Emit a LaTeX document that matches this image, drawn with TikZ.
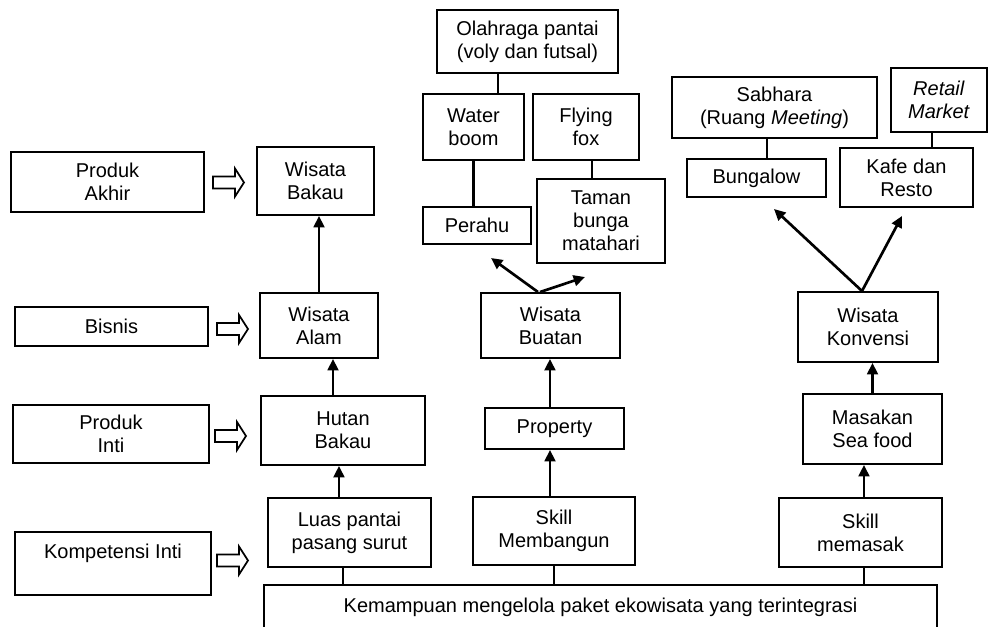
\documentclass[tikz,border=0pt]{standalone}
\usepackage{fontspec}
\setmainfont{Liberation Sans}
\usepackage{tikz}
\usetikzlibrary{arrows.meta}
\usetikzlibrary{calc}

\tikzset{
    kotak/.style={draw, line width=1.45pt, align=center, inner sep=0pt, font=\fontsize{15}{17.3}\selectfont},
    panah/.style={-{Triangle[length=8.5pt,width=8pt]}, line width=2pt},
    garis/.style={line width=2pt},
    blok/.style={line width=1.3pt}
}

\begin{document}
\begin{tikzpicture}[x=0.75pt,y=-0.75pt]
\useasboundingbox (0,0) rectangle (989,627);
\clip (0,0) rectangle (989,627);
\begin{scope}
    % kolom keterangan
    \node[kotak, minimum width=144.75pt, minimum height=45pt] (akhir) at (107.5,182) {Produk\\Akhir};
    \node[kotak, minimum width=144.75pt, minimum height=29.25pt] (bisnis) at (111.5,326.5) {Bisnis};
    \node[kotak, minimum width=147pt, minimum height=43.5pt] (inti) at (111,434) {Produk\\Inti};
    \node[kotak, minimum width=147pt, minimum height=47.25pt] (kompetensi) at (113,563.5) {\raisebox{7.9pt}[\height][\depth]{Kompetensi Inti}};

    \draw[blok] (213,176.5) -- ++(22,0) -- ++(0,-8) -- ++(9,14) -- ++(-9,14) -- ++(0,-8) -- ++(-22,0) -- cycle;
    \draw[blok] (217,323) -- ++(22,0) -- ++(0,-8) -- ++(9,14) -- ++(-9,14) -- ++(0,-8) -- ++(-22,0) -- cycle;
    \draw[blok] (215,430) -- ++(22,0) -- ++(0,-8) -- ++(9,14) -- ++(-9,14) -- ++(0,-8) -- ++(-22,0) -- cycle;
    \draw[blok] (217,554.5) -- ++(22,0) -- ++(0,-8) -- ++(9,14) -- ++(-9,14) -- ++(0,-8) -- ++(-22,0) -- cycle;

    % wisata alam
    \node[kotak, minimum width=87.75pt, minimum height=51pt] (wbakau) at (315.5,181) {Wisata\\Bakau};
    \node[kotak, minimum width=88.5pt, minimum height=48.75pt] (alam) at (319,325.5) {Wisata\\Alam};
    \node[kotak, minimum width=123pt, minimum height=51.75pt] (hutan) at (343,430.5) {Hutan\\Bakau};
    \node[kotak, minimum width=122.25pt, minimum height=51.75pt] (luas) at (349.5,532.5) {Luas pantai\\pasang surut};

    % wisata buatan
    \node[kotak, minimum width=135.75pt, minimum height=47.25pt] (olahraga) at (527.5,41.5) {Olahraga pantai\\(voly dan futsal)};
    \node[kotak, minimum width=75.75pt, minimum height=49.5pt] (water) at (473.5,127) {Water\\boom};
    \node[kotak, minimum width=79.5pt, minimum height=49.5pt] (flying) at (586,127) {Flying\\fox};
    \node[kotak, minimum width=81pt, minimum height=27.75pt] (perahu) at (477,225.5) {Perahu};
    \node[kotak, minimum width=96pt, minimum height=63pt] (taman) at (601,221) {Taman\\bunga\\matahari};
    \node[kotak, minimum width=104.25pt, minimum height=48.75pt] (buatan) at (550.5,325.5) {Wisata\\Buatan};
    \node[kotak, minimum width=104.25pt, minimum height=30.75pt] (property) at (554.5,428.5) {Property};
    \node[kotak, minimum width=121.5pt, minimum height=51pt] (membangun) at (554,531) {Skill\\Membangun};

    % wisata konvensi
    \node[kotak, minimum width=153.75pt, minimum height=45.75pt] (sabhara) at (774.5,107.5) {Sabhara\\(Ruang \textit{Meeting})};
    \node[kotak, minimum width=72pt, minimum height=48pt] (retail) at (939,100) {\textit{Retail}\\\textit{Market}};
    \node[kotak, minimum width=104.25pt, minimum height=28.5pt] (bungalow) at (756.5,178) {Bungalow};
    \node[kotak, minimum width=99.75pt, minimum height=44.25pt] (kafe) at (906.5,177.5) {Kafe dan\\Resto};
    \node[kotak, minimum width=105pt, minimum height=52.5pt] (konvensi) at (868,327) {Wisata\\Konvensi};
    \node[kotak, minimum width=104.25pt, minimum height=52.5pt] (masakan) at (872.5,429) {Masakan\\Sea food};
    \node[kotak, minimum width=122.25pt, minimum height=51.75pt] (memasak) at (860.5,532.5) {Skill\\memasak};

    \node[kotak, minimum width=504.75pt, minimum height=48.75pt] (kemampuan) at (600.5,617.5) {\raisebox{7.9pt}[\height][\depth]{Kemampuan mengelola paket ekowisata yang terintegrasi}};

    % panah kolom alam
    \draw[panah] (alam.north) -- (alam.north |- wbakau.south);
    \coordinate (h1) at ([xshift=-7.5pt]hutan.north);
    \draw[panah] (h1) -- (h1 |- alam.south);
    \coordinate (l1) at ([xshift=-7.9pt]luas.north);
    \draw[panah] (l1) -- (l1 |- hutan.south);
    \coordinate (l2) at ([xshift=-4.9pt]luas.south);
    \draw[garis] (l2) -- (l2 |- kemampuan.north);

    % panah kolom buatan
    \coordinate (p1) at ([xshift=-3.4pt]property.north);
    \draw[panah] (p1) -- (p1 |- buatan.south);
    \coordinate (m1) at ([xshift=-3pt]membangun.north);
    \draw[panah] (m1) -- (m1 |- property.south);
    \draw[garis] (membangun.south) -- (membangun.south |- kemampuan.north);
    \coordinate (w1) at ([xshift=18.4pt]water.north);
    \draw[garis] (w1) -- (w1 |- olahraga.south);
    \draw[garis] (water.south) -- (water.south |- perahu.north);
    \coordinate (f1) at ([xshift=4.5pt]flying.south);
    \draw[garis] (f1) -- (f1 |- taman.north);
    \coordinate (b1) at ([xshift=-9.4pt]buatan.north);
    \coordinate (b2) at ([xshift=-7.9pt]buatan.north);
    \coordinate (ujungperahu) at (491,258);
    \coordinate (ujungtaman) at (585,277);
    \draw[panah] (b1) -- (ujungperahu);
    \draw[panah] (b2) -- (ujungtaman);

    % panah kolom konvensi
    \draw[panah] (masakan.north) -- (masakan.north |- konvensi.south);
    \coordinate (s1) at ([xshift=2.6pt]memasak.north);
    \draw[panah] (s1) -- (s1 |- masakan.south);
    \coordinate (s2) at ([xshift=2.6pt]memasak.south);
    \draw[garis] (s2) -- (s2 |- kemampuan.north);
    \coordinate (k0) at ([xshift=-4.5pt]konvensi.north);
    \coordinate (ujungbungalow) at (774,209);
    \coordinate (ujungkafe) at (902,216);
    \draw[panah] (k0) -- (ujungbungalow);
    \draw[panah] (k0) -- (ujungkafe);
    \coordinate (g1) at ([xshift=7.9pt]bungalow.north);
    \draw[garis] (g1) -- (g1 |- sabhara.south);
    \coordinate (r1) at ([xshift=-5.25pt]retail.south);
    \draw[garis] (r1) -- (r1 |- kafe.north);
\end{scope}
\end{tikzpicture}
\end{document}
